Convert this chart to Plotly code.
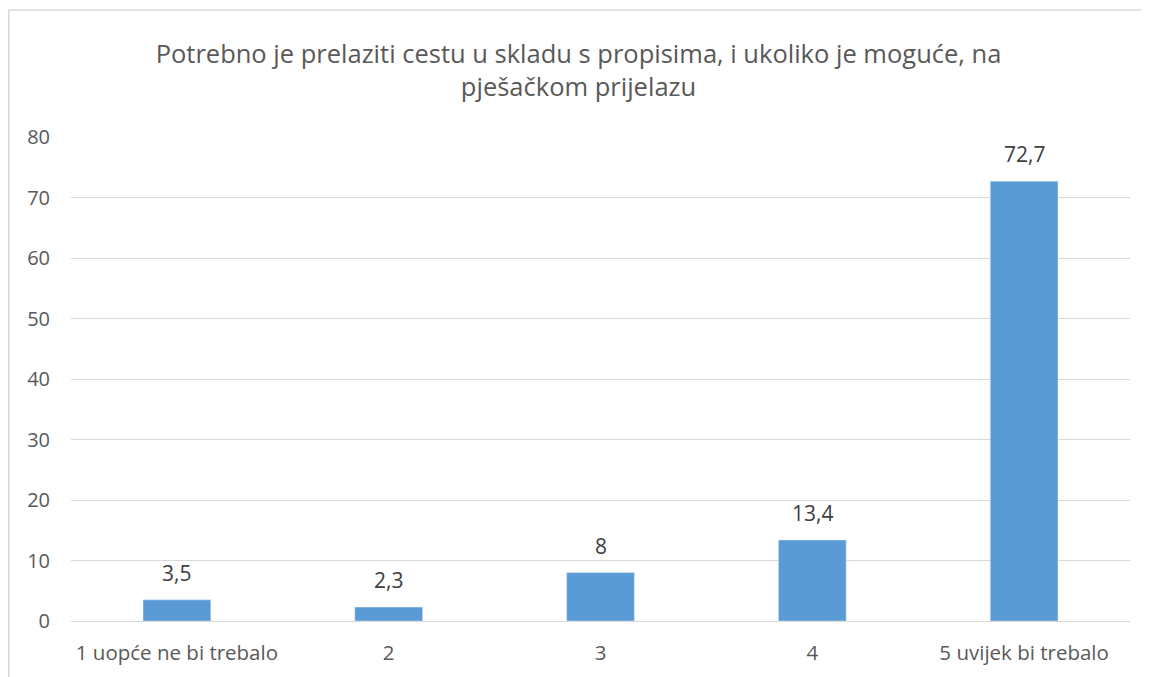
import plotly.graph_objects as go

categories = ["1 uopće ne bi trebalo", "2", "3", "4", "5 uvijek bi trebalo"]
values = [3.5, 2.3, 8, 13.4, 72.7]
value_labels = ["3,5", "2,3", "8", "13,4", "72,7"]
title_text = "Potrebno je prelaziti cestu u skladu s propisima, i ukoliko je moguće, na<br>pješačkom prijelazu"

FONT = "Open Sans"
W, H = 1141, 669
L, R, T, B = 63, 19, 129, 56
pw, ph = W - L - R, H - T - B

fig = go.Figure()
fig.add_trace(go.Bar(
    x=categories, y=values,
    marker=dict(color="#5B9BD5"),
))
for i, (v, t) in enumerate(zip(values, value_labels)):
    fig.add_annotation(x=i, y=v, xref="x", yref="y", text=t, showarrow=False,
                       yanchor="bottom", yshift=11,
                       font=dict(size=21, color="#404040", family=FONT))

bx0 = (0.75 - L) / pw
bx1 = (W + 200 - L) / pw
by0 = -(B + 200) / ph
by1 = 1 + (T - 2) / ph
border = dict(color="#d9d9d9", width=1.5)
fig.update_layout(
    width=W, height=H,
    margin=dict(l=L, r=R, t=T, b=B),
    paper_bgcolor="white", plot_bgcolor="white",
    font=dict(family=FONT, color="#595959", size=20),
    title=dict(text=title_text, x=0.5, xanchor="center", y=1 - 55 / H, yanchor="top",
               font=dict(size=25.5, color="#595959", family=FONT)),
    bargap=0.68,
    showlegend=False,
    yaxis=dict(range=[0, 80], dtick=10, showgrid=True, gridcolor="#d9d9d9", gridwidth=1,
               zeroline=False, showline=False, ticks="", ticklabelstandoff=20,
               tickfont=dict(size=20, color="#595959")),
    xaxis=dict(showline=True, linecolor="#d9d9d9", linewidth=1, ticks="", ticklabelstandoff=13,
               tickfont=dict(size=20.5, color="#595959")),
    shapes=[
        dict(type="line", xref="paper", yref="paper", x0=bx0, x1=bx0, y0=by0, y1=by1,
             line=border, layer="below"),
        dict(type="line", xref="paper", yref="paper", x0=bx0, x1=bx1, y0=by1, y1=by1,
             line=border, layer="below"),
    ],
)
fig.write_html("out.html")
